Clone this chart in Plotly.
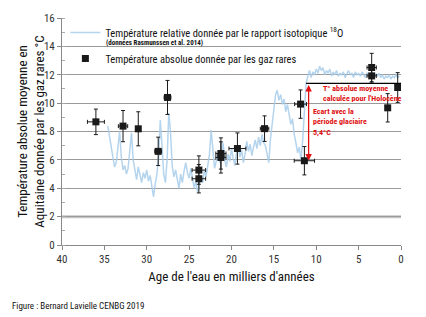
import plotly.graph_objects as go

# Isotopic (18O) relative temperature curve
iso_age = [34.6, 34.4, 34.2, 34.0, 33.8, 33.6, 33.4, 33.2, 33.0, 32.8, 32.6, 32.4, 32.2, 32.0,
           31.8, 31.6, 31.4, 31.2, 31.0, 30.8, 30.6, 30.4, 30.2, 30.0, 29.8, 29.6, 29.4, 29.2,
           29.0, 28.8, 28.6, 28.4, 28.2, 28.0, 27.8, 27.6, 27.4, 27.2, 27.0, 26.8, 26.6, 26.4,
           26.2, 26.0, 25.8, 25.6, 25.4, 25.2, 25.0, 24.8, 24.6, 24.4, 24.2, 24.0, 23.8, 23.6,
           23.4, 23.2, 23.0, 22.8, 22.6, 22.4, 22.2, 22.0, 21.8, 21.6, 21.4, 21.2, 21.0, 20.8,
           20.6, 20.4, 20.2, 20.0, 19.8, 19.6, 19.4, 19.2, 19.0, 18.8, 18.6, 18.4, 18.2, 18.0,
           17.8, 17.6, 17.4, 17.2, 17.0, 16.8, 16.6, 16.4, 16.2, 16.0, 15.8, 15.6, 15.4, 15.2,
           15.0, 14.8, 14.6, 14.4, 14.2, 14.0, 13.8, 13.6, 13.4, 13.2, 13.0, 12.8, 12.6, 12.4,
           12.2, 12.0, 11.8, 11.6, 11.4, 11.2, 11.0, 10.8, 10.6, 10.4, 10.2, 10.0, 9.8, 9.6,
           9.4, 9.2, 9.0, 8.8, 8.6, 8.4, 8.2, 8.0, 7.8, 7.6, 7.4, 7.2, 7.0, 6.8, 6.6, 6.4, 6.2,
           6.0, 5.8, 5.6, 5.4, 5.2, 5.0, 4.8, 4.6, 4.4, 4.2, 4.0, 3.8, 3.6, 3.4, 3.2, 3.0, 2.8,
           2.6, 2.4, 2.2, 2.0, 1.8, 1.6, 1.4, 1.2, 1.0, 0.8, 0.6, 0.4, 0.2]
iso_temp = [8.4, 7.6, 6.8, 6.0, 5.5, 5.8, 7.2, 8.0, 6.2, 5.3, 5.6, 5.0, 5.4, 6.5,
            7.9, 6.0, 5.2, 4.6, 5.5, 5.0, 4.4, 5.1, 4.7, 5.3, 4.5, 4.9, 4.0, 3.4,
            4.3, 5.0, 6.2, 8.8, 7.0, 5.0, 4.4, 6.0, 9.3, 8.0, 5.6, 4.8, 5.3, 4.6,
            4.0, 5.0, 4.4, 5.2, 5.8, 5.1, 4.7, 5.4, 4.6, 4.0, 4.5, 3.7, 4.2, 4.9,
            4.4, 5.3, 4.8, 5.6, 6.4, 8.1, 6.5, 5.4, 5.9, 6.6, 5.8, 6.3, 7.2, 6.0,
            5.5, 6.4, 5.9, 6.8, 6.1, 5.6, 6.5, 7.0, 6.2, 6.7, 5.8, 6.4, 7.3, 6.6,
            7.1, 6.3, 6.9, 7.4, 6.8, 7.6, 7.0, 7.8, 7.2, 7.0, 6.4, 5.8, 7.5, 8.4,
            9.6, 10.6, 10.9, 10.2, 10.6, 9.9, 10.3, 9.4, 9.9, 9.2, 8.5, 8.9, 7.8, 7.2,
            6.5, 6.9, 6.0, 7.4, 9.6, 11.4, 11.9, 12.3, 11.8, 12.2, 12.0, 12.4, 12.1, 12.6,
            12.3, 12.5, 12.0, 12.3, 12.1, 12.4, 11.9, 12.2, 12.0, 12.3, 11.9, 12.1, 12.0, 12.2, 11.8, 12.0, 12.3,
            12.0, 12.1, 11.8, 12.2, 12.0, 12.1, 11.9, 12.2, 12.0, 11.8, 12.1, 12.0, 11.9, 12.2, 11.8, 12.0, 11.9,
            12.1, 11.8, 12.0, 11.7, 11.9, 11.8, 12.0, 11.7, 11.9, 11.8, 12.0, 11.8, 11.9]

# Noble gas absolute temperatures
gas_age = [36.0, 32.8, 31.0, 28.65, 27.55, 23.85, 23.85, 21.25, 21.25, 19.3, 16.1, 11.85, 11.4,
           3.46, 3.46, 1.57, 0.39]
gas_temp = [8.68, 8.38, 8.19, 6.6, 10.4, 5.28, 4.67, 6.45, 6.17, 6.8, 8.2, 9.93, 5.94,
            12.51, 11.92, 9.67, 11.1]
gas_terr = [0.9, 1.1, 1.2, 1.0, 1.2, 1.0, 1.0, 1.1, 1.1, 1.1, 0.9, 1.0, 1.0, 1.0, 0.5, 1.0, 1.05]
gas_aerr = [1.0, 0.55, 0.0, 0.4, 0.4, 0.8, 0.8, 0.6, 0.6, 1.0, 0.5, 0.7, 1.2, 0.55, 0.55, 0.0, 0.0]

holocene_mean = 11.39
glacial_min = 5.95
holocene_span = [11.2, -0.3]
arrow_age = 10.9

x_ticks = [40, 35, 30, 25, 20, 15, 10, 5, 0]
y_ticks = [0, 2, 4, 6, 8, 10, 12, 14, 16]

FONT = "Liberation Sans Narrow, Roboto Condensed, Arial Narrow, Liberation Sans, sans-serif"
RED = "#e01010"

fig = go.Figure()
fig.add_trace(go.Scatter(
    x=iso_age, y=iso_temp, mode="lines",
    line=dict(color="rgba(168,204,234,0.85)", width=1.5),
    name="Température relative donnée par le rapport isotopique <sup>18</sup>O",
    legendgroup="a",
))
fig.add_trace(go.Scatter(
    x=gas_age, y=gas_temp, mode="markers",
    marker=dict(symbol="square", size=7, color="#1a1a1a"),
    error_y=dict(type="data", array=gas_terr, color="#1a1a1a", thickness=1, width=2),
    error_x=dict(type="data", array=gas_aerr, color="#1a1a1a", thickness=1, width=2),
    name="Température absolue donnée par les gaz rares",
    legendgroup="b",
))

fig.add_shape(type="line", xref="x", yref="y", x0=holocene_span[0], x1=holocene_span[1],
              y0=holocene_mean, y1=holocene_mean, line=dict(color="black", width=1.2))
fig.add_shape(type="line", xref="x", yref="y", x0=40, x1=0, y0=2, y1=2,
              line=dict(color="#c4c4c4", width=3), layer="below")

fig.add_annotation(x=arrow_age, y=glacial_min, ax=arrow_age, ay=holocene_mean,
                   xref="x", yref="y", axref="x", ayref="y", text="",
                   showarrow=True, arrowhead=2, arrowside="end+start", arrowsize=1,
                   arrowwidth=1.3, arrowcolor=RED)
fig.add_annotation(x=9.4, y=10.7, xref="x", yref="y", xanchor="left", yanchor="middle",
                   text="<b>T° absolue moyenne<br>calculée pour l'Holocène</b>",
                   showarrow=False, align="left",
                   font=dict(family=FONT, size=8, color=RED))
fig.add_annotation(x=10.6, y=8.7, xref="x", yref="y", xanchor="left", yanchor="middle",
                   text="<b>Ecart avec la<br>période glaciaire<br>5,4°C</b>",
                   showarrow=False, align="left",
                   font=dict(family=FONT, size=8, color=RED))
# legend sub-caption
fig.add_annotation(x=0.124, y=0.89, xref="paper", yref="paper", xanchor="left", yanchor="middle",
                   text="<b>(données Rasmunssen et al. 2014)</b>", showarrow=False,
                   font=dict(family=FONT, size=7, color="#111"))
# y axis title
fig.add_annotation(x=-0.094, y=0.5, xref="paper", yref="paper", xanchor="center", yanchor="middle",
                   textangle=-90, showarrow=False,
                   text="Température absolue moyenne en<br>Aquitaine donnée par les gaz rares °C",
                   font=dict(family=FONT, size=13, color="#111"))
# footnote
fig.add_annotation(x=-0.153, y=-0.269, xref="paper", yref="paper",
                   text="Figure : Bernard Lavielle CENBG 2019",
                   showarrow=False, xanchor="left", yanchor="middle",
                   font=dict(family=FONT, size=9, color="#111"))

fig.update_layout(
    width=426, height=317,
    margin=dict(l=62, r=25, t=18, b=72),
    paper_bgcolor="white", plot_bgcolor="white",
    font=dict(family=FONT, size=11, color="#222"),
    legend=dict(x=0.01, y=1.0, xanchor="left", yanchor="top",
                bgcolor="rgba(255,255,255,0)", font=dict(size=10.5, color="#111"),
                tracegroupgap=7),
    showlegend=True,
)
fig.update_xaxes(range=[40, 0], tickvals=x_ticks, ticks="outside", ticklen=4,
                 tickcolor="#888", showline=True, linecolor="#888", showgrid=False,
                 zeroline=False, tickfont=dict(size=11, color="#333"),
                 title=dict(text="Age de l'eau en milliers d'années", font=dict(size=13, color="#111"),
                            standoff=6))
fig.update_yaxes(range=[0, 16], tickvals=y_ticks, ticks="outside", ticklen=4,
                 tickcolor="#888", showline=True, linecolor="#888", showgrid=True,
                 gridcolor="#9a9a9a", gridwidth=1, zeroline=False,
                 minor=dict(dtick=1, ticks="inside", ticklen=3, tickcolor="#aaa", showgrid=False),
                 tickfont=dict(size=11, color="#333"))

fig.write_html("out.html")
